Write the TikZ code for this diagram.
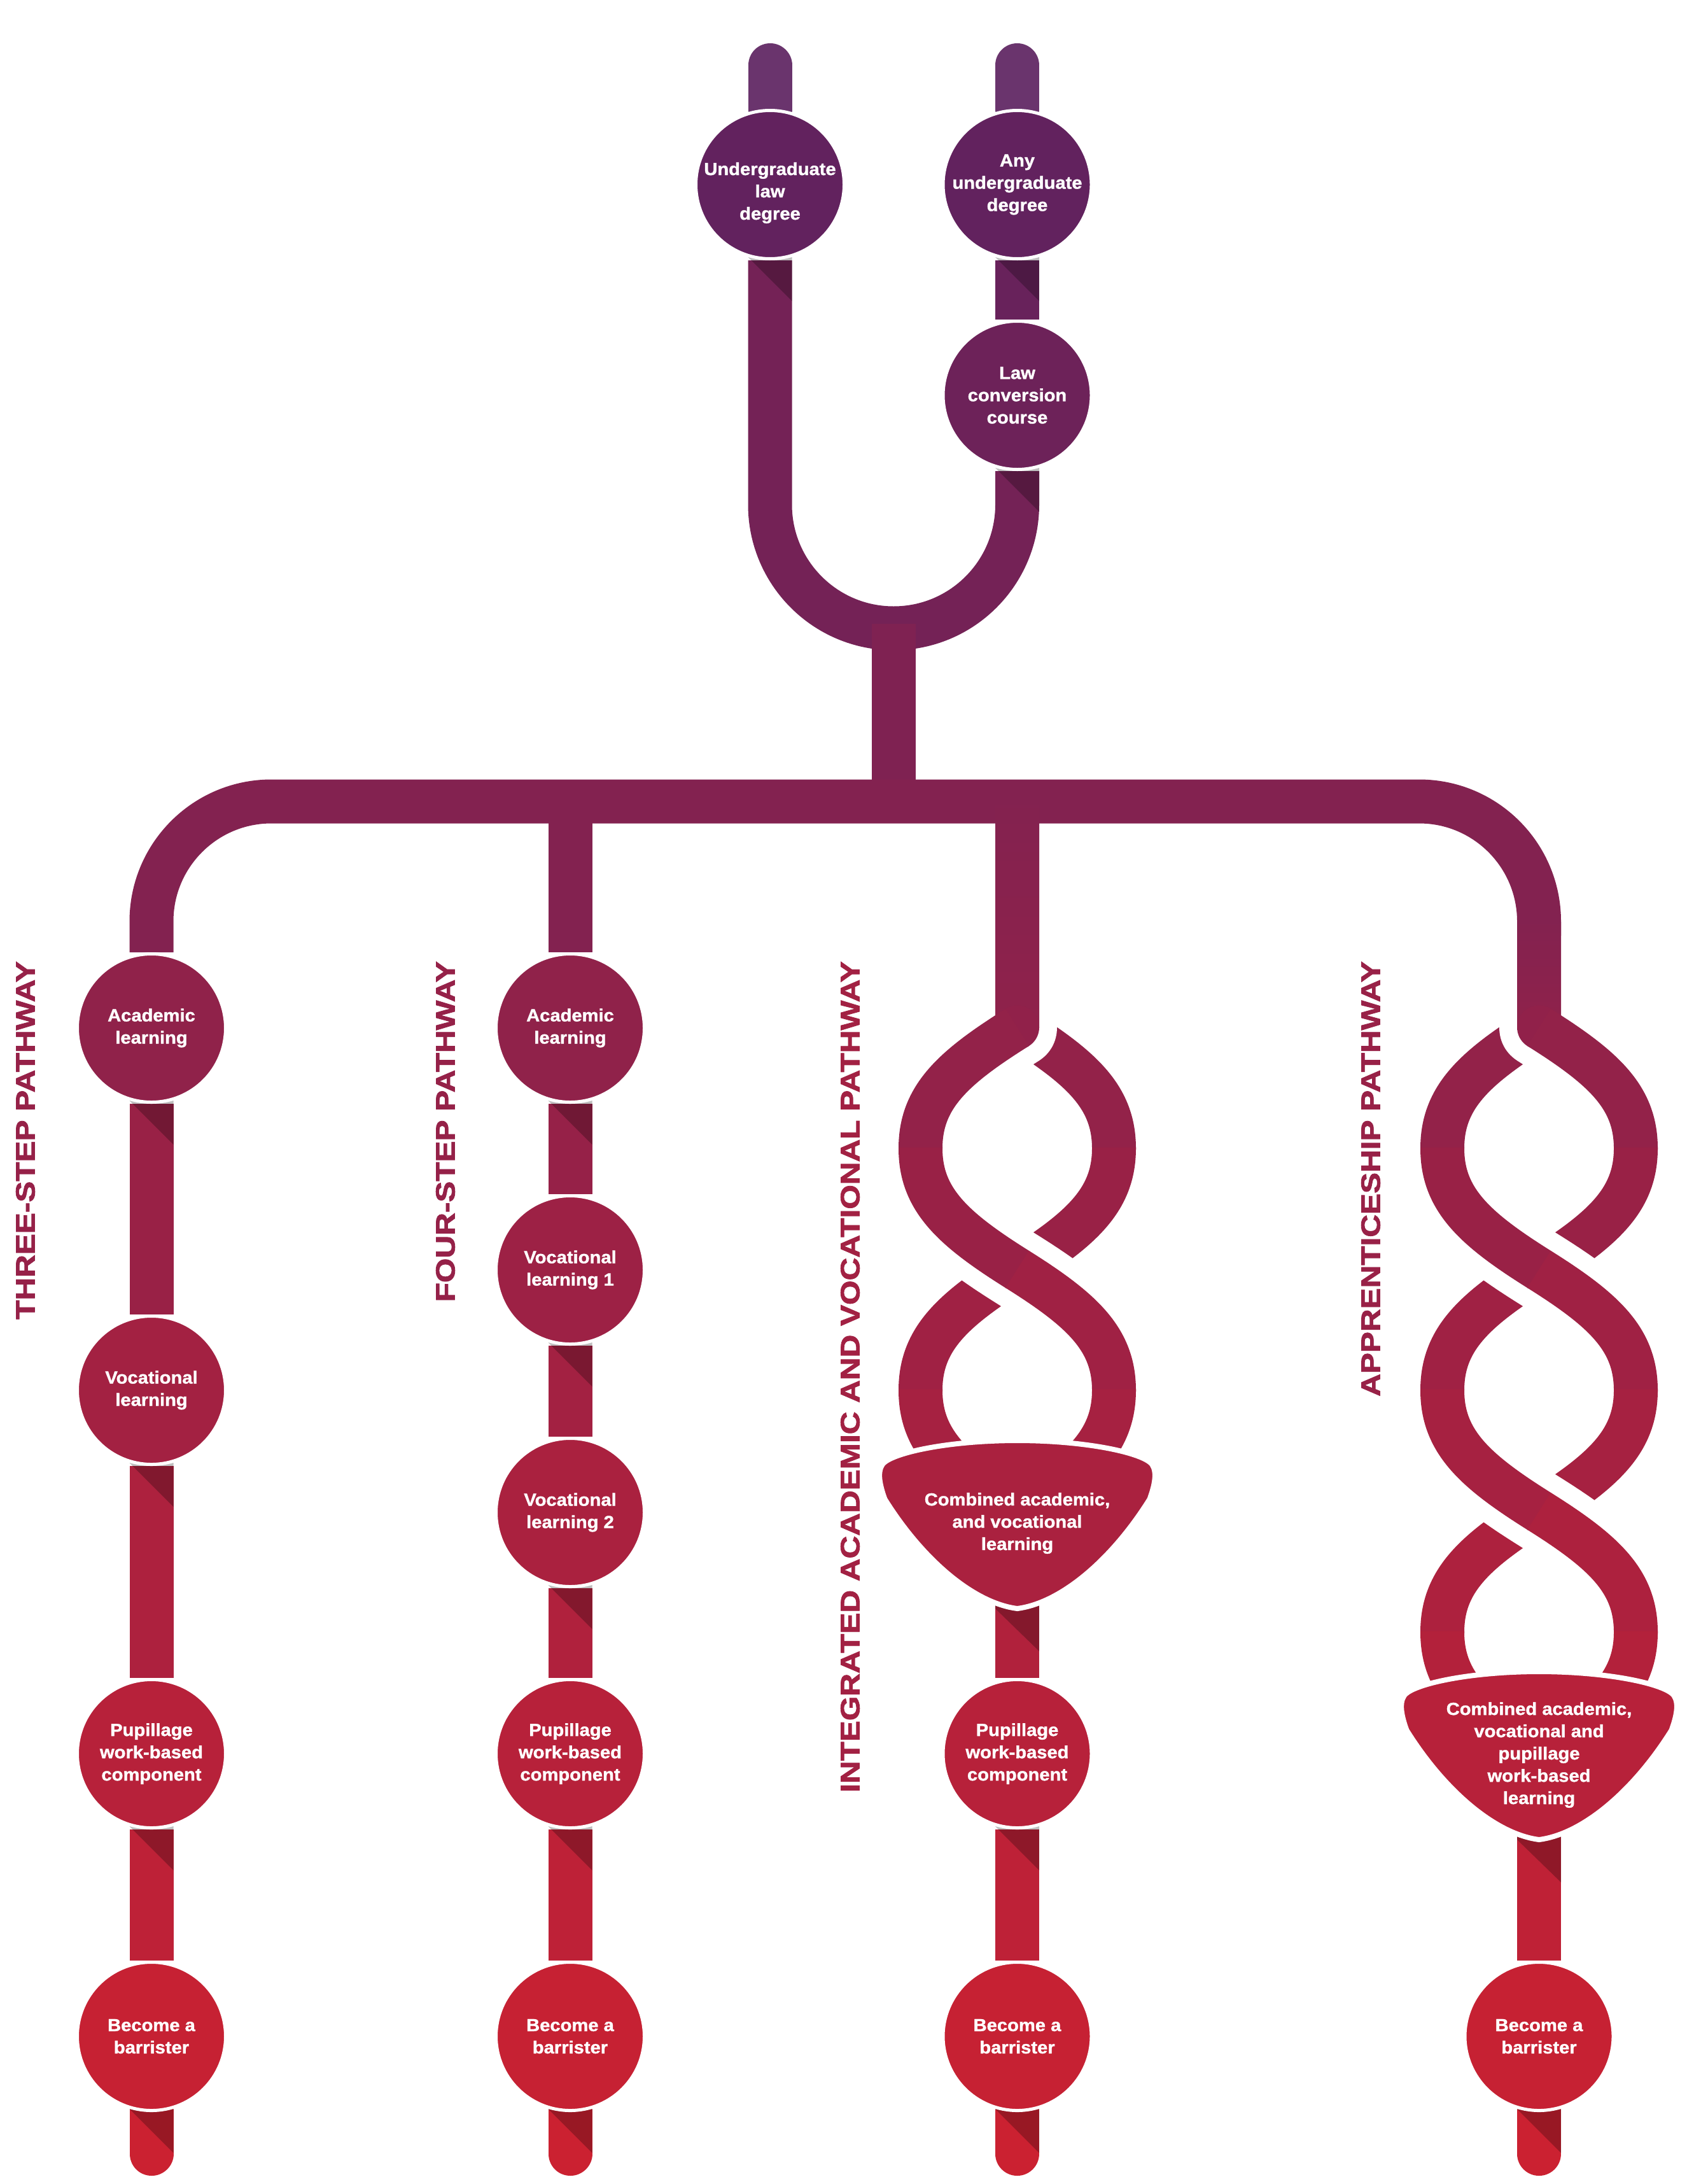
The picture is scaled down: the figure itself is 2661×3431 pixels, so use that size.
\documentclass[tikz,border=0pt]{standalone}
\usepackage{fontspec}
\usetikzlibrary{calc}
\newfontfamily\nodefont{Liberation Sans Bold}[FakeStretch=1.06, FakeBold=1.2]
\newfontfamily\labelfont{Liberation Sans Bold}[FakeStretch=1.178, FakeBold=2]
\definecolor{ctop}{RGB}{88,34,98}
\definecolor{cbot}{RGB}{206,33,48}
\newcommand\mkcol[2]{\pgfmathsetmacro\mkpct{#2/34.31}\colorlet{#1}{cbot!\mkpct!ctop}}
\mkcol{c150}{150}\mkcol{c290}{290}\mkcol{c455}{455}\mkcol{c621}{621}\mkcol{c800}{800}
\mkcol{c1120}{1120}\mkcol{c1259}{1259}\mkcol{c1614}{1614}\mkcol{c1615}{1615}\mkcol{c1650}{1650}
\mkcol{c1709}{1709}\mkcol{c1777}{1777}\mkcol{c1790}{1790}\mkcol{c1805}{1805}\mkcol{c1855}{1855}
\mkcol{c1899}{1899}\mkcol{c1900}{1900}\mkcol{c1995}{1995}\mkcol{c2089}{2089}\mkcol{c2166}{2166}
\mkcol{c2184}{2184}\mkcol{c2185}{2185}\mkcol{c2279}{2279}\mkcol{c2376}{2376}\mkcol{c2393}{2393}
\mkcol{c2469}{2469}\mkcol{c2470}{2470}\mkcol{c2565}{2565}\mkcol{c2600}{2600}\mkcol{c2659}{2659}
\mkcol{c2755}{2755}\mkcol{c2757}{2757}\mkcol{c2977}{2977}\mkcol{c3000}{3000}\mkcol{c3199}{3199}
\mkcol{c3350}{3350}
\colorlet{ctopstem}{c150!92!white}
\pgfdeclarelayer{conn}
\pgfdeclarelayer{shad}
\pgfsetlayers{conn,shad,main}
\tikzset{
  stepnode/.style={circle, minimum size=233pt, inner sep=0pt, draw=white, line width=5pt,
    text=white, align=center, font={\nodefont\fontsize{27.5}{35}\selectfont}},
  txt/.style={inner sep=0pt, text=white, align=center, font={\nodefont\fontsize{27.5}{35}\selectfont}},
  stemline/.style={line width=69pt},
  casing/.style={line width=125pt, draw=white, line join=round},
  shadowtri/.style={fill=black, opacity=0.25},
  pathlabel/.style={rotate=90, anchor=east, inner sep=0pt, font={\labelfont\fontsize{42}{42}\selectfont}}
}
\newcommand\cshadow[1]{\fill[shadowtri] ($(#1.center)+(-34.5,0)$) -- ($(#1.center)+(34.5,0)$) -- ($(#1.center)+(34.5,183)$) -- ($(#1.center)+(-34.5,114)$) -- cycle;}
\newcommand\shieldshape[3]{%
  \begin{scope}[shift={(#1,#2)}]
    \fill[shadowtri] (-34.5,150) -- (34.5,150) -- (34.5,331) -- (-34.5,264) -- cycle;
    \path[fill=#3, draw=white, line width=8pt] (0,0) .. controls (110,0) and (200,20) .. (212,38)
      .. controls (220,50) and (216,70) .. (208,92)
      .. controls (150,185) and (70,255) .. (0,264)
      .. controls (-70,255) and (-150,185) .. (-208,92)
      .. controls (-216,70) and (-220,50) .. (-212,38)
      .. controls (-200,20) and (-110,0) .. (0,0) -- cycle;
  \end{scope}}
\begin{document}
\begin{tikzpicture}[x=1pt,y=-1pt]
\useasboundingbox (0,0) rectangle (2661,3431);
% ---------- nodes ----------
\node[stepnode, fill=c290] (ug) at (1210,290) {};
\node[txt] (ugt) at (1210,303) {Undergraduate\\law\\degree};
\node[stepnode, fill=c290] (any) at (1598.5,290) {Any\\undergraduate\\degree};
\node[stepnode, fill=c621] (lc) at (1598.5,621) {Law\\conversion\\course};
% three-step
\node[stepnode, fill=c1615] (a3) at (238,1615) {Academic\\learning};
\node[stepnode, fill=c2184] (v3) at (238,2184) {Vocational\\learning};
\node[stepnode, fill=c2755] (p3) at (238,2755) {Pupillage\\work-based\\component};
\node[stepnode, fill=c3199] (b3) at (238,3199) {Become a\\barrister};
% four-step
\node[stepnode, fill=c1615] (a4) at (896,1615) {Academic\\learning};
\node[stepnode, fill=c1995] (v41) at (896,1995) {Vocational\\learning 1};
\node[stepnode, fill=c2376] (v42) at (896,2376) {Vocational\\learning 2};
\node[stepnode, fill=c2755] (p4) at (896,2755) {Pupillage\\work-based\\component};
\node[stepnode, fill=c3199] (b4) at (896,3199) {Become a\\barrister};
% integrated
\node[txt] (comb3) at (1598.5,2393) {Combined academic,\\and vocational\\learning};
\node[stepnode, fill=c2755] (p5) at (1598.5,2755) {Pupillage\\work-based\\component};
\node[stepnode, fill=c3199] (b5) at (1598.5,3199) {Become a\\barrister};
% apprenticeship
\node[txt] (comb4) at (2418.5,2757) {Combined academic,\\vocational and\\pupillage\\work-based\\learning};
\node[stepnode, fill=c3199] (b6) at (2418.5,3199) {Become a\\barrister};
% labels
\node[pathlabel, text=c1790] (lab3) at (40,1510) {THREE-STEP PATHWAY};
\node[pathlabel, text=c1777] (lab4) at (700,1510) {FOUR-STEP PATHWAY};
\node[pathlabel, text=c2166] (lab5) at (1336,1510) {INTEGRATED ACADEMIC AND VOCATIONAL PATHWAY};
\node[pathlabel, text=c1855] (lab6) at (2154,1510) {APPRENTICESHIP PATHWAY};

% ---------- connectors ----------
\begin{pgfonlayer}{conn}
\fill[white] (0,0) rectangle (2661,3431);
% top
\draw[stemline, line cap=round, draw=ctopstem] (1210,102.5) -- (ug);
\draw[stemline, line cap=round, draw=ctopstem] (1598.5,102.5) -- (any);
\draw[stemline, draw=c455] (any) -- (lc);
\draw[stemline, draw=c800, rounded corners=194.25pt] (ug) -- (1210,987) -- (1598.5,987) -- (lc);
\draw[stemline, draw=c1120] (1404.25,980) -- (1404.25,1265);
% bar
\draw[stemline, draw=c1259, rounded corners=188.5pt] (a3) -- (238,1259) -- (2418.5,1259) -- (2418.5,1470);
\draw[stemline, draw=c1259] (896,1259) -- (a4);
% three-step
\draw[stemline, draw=c1900] (a3) -- (v3);
\draw[stemline, draw=c2470] (v3) -- (p3);
\draw[stemline, draw=c2977] (p3) -- (b3);
\draw[stemline, draw=c3350, line cap=round] (b3) -- (238,3383.5);
% four-step
\draw[stemline, draw=c1805] (a4) -- (v41);
\draw[stemline, draw=c2185] (v41) -- (v42);
\draw[stemline, draw=c2565] (v42) -- (p4);
\draw[stemline, draw=c2977] (p4) -- (b4);
\draw[stemline, draw=c3350, line cap=round] (b4) -- (896,3383.5);
% integrated helix
\draw[stemline, draw=c1709] (1598.5,1614) .. controls (1700.5,1678) and (1750.5,1724) .. (1750.5,1804) -- (1750.5,1805.5);
\draw[casing] (1598.5,1480) -- (1598.5,1614) .. controls (1496.5,1678) and (1446.5,1724) .. (1446.5,1804);
\shade[top color=c1259, bottom color=c1614] (1564,1259) rectangle (1633,1614);
\fill[c1650] (1598.5,1614) circle[radius=34.5pt];
\draw[stemline, draw=c1709] (1598.5,1614) .. controls (1496.5,1678) and (1446.5,1724) .. (1446.5,1804) -- (1446.5,1805.5);
\draw[stemline, draw=c1899] (1750.5,1802.5) -- (1750.5,1804) .. controls (1750.5,1884) and (1700.5,1930) .. (1598.5,1994) -- ++(-1.3,0.8);
\draw[stemline, draw=c2089] (1598.5,1994) .. controls (1496.5,2058) and (1446.5,2104) .. (1446.5,2184) -- (1446.5,2185.5);
\draw[casing] (1446.5,1804) .. controls (1446.5,1884) and (1496.5,1930) .. (1598.5,1994) .. controls (1700.5,2058) and (1750.5,2104) .. (1750.5,2184);
\draw[stemline, draw=c1899] (1446.5,1802.5) -- (1446.5,1804) .. controls (1446.5,1884) and (1496.5,1930) .. (1598.5,1994) -- ++(1.3,0.8);
\draw[stemline, draw=c2089] (1598.5,1994) .. controls (1700.5,2058) and (1750.5,2104) .. (1750.5,2184) -- (1750.5,2185.5);
\draw[stemline, draw=c2279] (1446.5,2182.5) -- (1446.5,2184) .. controls (1446.5,2264) and (1496.5,2310) .. (1598.5,2374);
\draw[stemline, draw=c2279] (1750.5,2182.5) -- (1750.5,2184) .. controls (1750.5,2264) and (1700.5,2310) .. (1598.5,2374);
\draw[stemline, draw=c2600] (comb3) -- (p5);
\draw[stemline, draw=c2977] (p5) -- (b5);
\draw[stemline, draw=c3350, line cap=round] (b5) -- (1598.5,3383.5);
% apprenticeship helix
\draw[stemline, draw=c1709] (2418.5,1614) .. controls (2316.5,1678) and (2266.5,1724) .. (2266.5,1804) -- (2266.5,1805.5);
\draw[casing] (2418.5,1480) -- (2418.5,1614) .. controls (2520.5,1678) and (2570.5,1724) .. (2570.5,1804);
\shade[top color=c1259, bottom color=c1614] (2384,1448) rectangle (2453,1614);
\fill[c1650] (2418.5,1614) circle[radius=34.5pt];
\draw[stemline, draw=c1709] (2418.5,1614) .. controls (2520.5,1678) and (2570.5,1724) .. (2570.5,1804) -- (2570.5,1805.5);
\draw[stemline, draw=c1899] (2570.5,1802.5) -- (2570.5,1804) .. controls (2570.5,1884) and (2520.5,1930) .. (2418.5,1994) -- ++(-1.3,0.8);
\draw[stemline, draw=c2089] (2418.5,1994) .. controls (2316.5,2058) and (2266.5,2104) .. (2266.5,2184) -- (2266.5,2185.5);
\draw[casing] (2266.5,1804) .. controls (2266.5,1884) and (2316.5,1930) .. (2418.5,1994) .. controls (2520.5,2058) and (2570.5,2104) .. (2570.5,2184);
\draw[stemline, draw=c1899] (2266.5,1802.5) -- (2266.5,1804) .. controls (2266.5,1884) and (2316.5,1930) .. (2418.5,1994) -- ++(1.3,0.8);
\draw[stemline, draw=c2089] (2418.5,1994) .. controls (2520.5,2058) and (2570.5,2104) .. (2570.5,2184) -- (2570.5,2185.5);
\draw[stemline, draw=c2279] (2570.5,2182.5) -- (2570.5,2184) .. controls (2570.5,2264) and (2520.5,2310) .. (2418.5,2374) -- ++(-1.3,0.8);
\draw[stemline, draw=c2469] (2418.5,2374) .. controls (2316.5,2438) and (2266.5,2484) .. (2266.5,2564) -- (2266.5,2565.5);
\draw[casing] (2266.5,2184) .. controls (2266.5,2264) and (2316.5,2310) .. (2418.5,2374) .. controls (2520.5,2438) and (2570.5,2484) .. (2570.5,2564);
\draw[stemline, draw=c2279] (2266.5,2182.5) -- (2266.5,2184) .. controls (2266.5,2264) and (2316.5,2310) .. (2418.5,2374) -- ++(1.3,0.8);
\draw[stemline, draw=c2469] (2418.5,2374) .. controls (2520.5,2438) and (2570.5,2484) .. (2570.5,2564) -- (2570.5,2565.5);
\draw[stemline, draw=c2659] (2266.5,2562.5) -- (2266.5,2564) .. controls (2266.5,2644) and (2316.5,2690) .. (2418.5,2754);
\draw[stemline, draw=c2659] (2570.5,2562.5) -- (2570.5,2564) .. controls (2570.5,2644) and (2520.5,2690) .. (2418.5,2754);
\draw[stemline, draw=c3000] (comb4) -- (b6);
\draw[stemline, draw=c3350, line cap=round] (b6) -- (2418.5,3383.5);
\end{pgfonlayer}

% ---------- shadows and combined shapes ----------
\begin{pgfonlayer}{shad}
\cshadow{ug}\cshadow{any}\cshadow{lc}
\cshadow{a3}\cshadow{v3}\cshadow{p3}\cshadow{b3}
\cshadow{a4}\cshadow{v41}\cshadow{v42}\cshadow{p4}\cshadow{b4}
\cshadow{p5}\cshadow{b5}\cshadow{b6}
\shieldshape{1598.5}{2263}{c2393}
\shieldshape{2418.5}{2626}{c2757}
\end{pgfonlayer}
\end{tikzpicture}
\end{document}
